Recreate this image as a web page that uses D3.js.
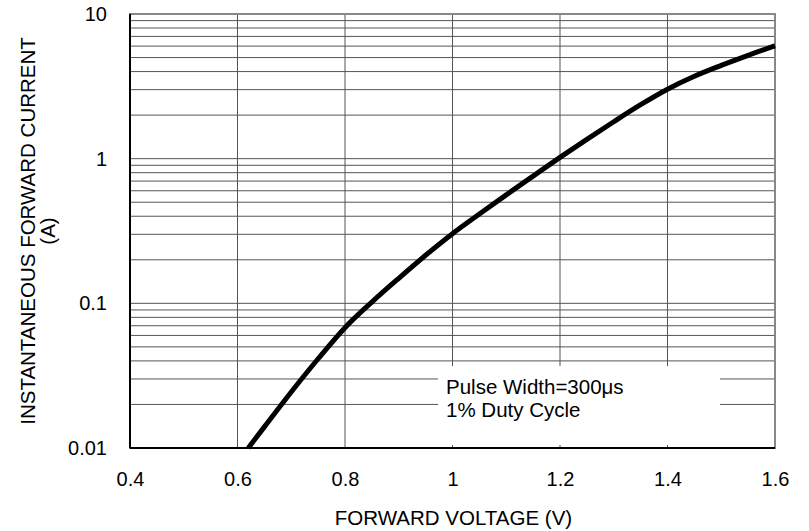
<!DOCTYPE html>
<html>
<head>
<meta charset="utf-8">
<script src="https://cdn.jsdelivr.net/npm/d3@7"></script>
<style>
  html, body { margin: 0; padding: 0; background: #fff; }
  svg { display: block; }
  text { font-family: "Liberation Sans", Arial, sans-serif; fill: #000; }
</style>
</head>
<body>
<svg id="chart" width="809" height="531"></svg>
<script>
// ---- data ----
const voltage = [0.62, 0.65, 0.70, 0.75, 0.80, 0.85, 0.90, 0.95, 1.00, 1.05, 1.10, 1.15, 1.20, 1.25, 1.30, 1.35, 1.40, 1.45, 1.50, 1.55, 1.60];
const current = [0.0100, 0.0140, 0.0244, 0.0414, 0.0679, 0.102, 0.149, 0.215, 0.303, 0.414, 0.562, 0.758, 1.02, 1.36, 1.80, 2.36, 3.02, 3.71, 4.41, 5.18, 6.02];
const xTicks = [0.4, 0.6, 0.8, 1.0, 1.2, 1.4, 1.6];
const xTickLabels = ["0.4", "0.6", "0.8", "1", "1.2", "1.4", "1.6"];
const yTicks = [0.01, 0.1, 1, 10];
const yTickLabels = ["0.01", "0.1", "1", "10"];
const xTitle = "FORWARD VOLTAGE (V)";
const yTitleLines = ["INSTANTANEOUS FORWARD CURRENT", "(A)"];
const noteLines = ["Pulse Width=300\u03bcs", "1% Duty Cycle"];

const svg = d3.select("#chart");
const m = { left: 130, right: 775, top: 14, bottom: 448 };

const x = d3.scaleLinear().domain([0.4, 1.6]).range([m.left, m.right]);
const y = d3.scaleLog().domain([0.01, 10]).range([m.bottom, m.top]);

// grid: minor horizontal lines (log)
const minor = [];
for (let d = 0.01; d < 10; d *= 10) {
  for (let k = 1; k <= 9; k++) minor.push(+(d * k).toPrecision(3));
}
const g = svg.append("g");
g.selectAll("line.h").data(minor.filter(v => v > 0.01 && v < 10)).enter()
  .append("line")
  .attr("x1", m.left).attr("x2", m.right)
  .attr("y1", d => y(d)).attr("y2", d => y(d))
  .attr("stroke", "#555").attr("stroke-width", 1);
g.selectAll("line.v").data(xTicks.slice(1, -1)).enter()
  .append("line")
  .attr("x1", d => x(d)).attr("x2", d => x(d))
  .attr("y1", m.top).attr("y2", m.bottom)
  .attr("stroke", "#555").attr("stroke-width", 1);

// note box (white, covering grid)
svg.append("rect").attr("x", 438).attr("y", 366).attr("width", 282).attr("height", 79).attr("fill", "#fff");
svg.append("g").selectAll("text").data(noteLines).enter().append("text")
  .attr("x", 446).attr("y", (d, i) => 394 + i * 23)
  .attr("font-size", 20.5).text(d => d);

// frame
svg.append("rect").attr("x", m.left).attr("y", m.top)
  .attr("width", m.right - m.left).attr("height", m.bottom - m.top)
  .attr("fill", "none").attr("stroke", "#888").attr("stroke-width", 2);
svg.append("line").attr("x1", m.left).attr("x2", m.left).attr("y1", m.top).attr("y2", m.bottom)
  .attr("stroke", "#000").attr("stroke-width", 2);
svg.append("line").attr("x1", m.left).attr("x2", m.right).attr("y1", m.bottom).attr("y2", m.bottom)
  .attr("stroke", "#000").attr("stroke-width", 2);

// curve
const pts = voltage.map((v, i) => [v, current[i]]);
const line = d3.line().x(d => x(d[0])).y(d => y(d[1])).curve(d3.curveMonotoneX);
svg.append("path").datum(pts).attr("d", line)
  .attr("fill", "none").attr("stroke", "#000").attr("stroke-width", 5)
  .attr("stroke-linecap", "butt");

// axes labels via d3 axes
const xAxis = d3.axisBottom(x).tickValues(xTicks).tickFormat((d, i) => xTickLabels[i]).tickSize(0).tickPadding(24);
const xa = svg.append("g").attr("transform", `translate(0,${m.bottom})`).call(xAxis);
xa.select(".domain").remove();
xa.selectAll("text").attr("font-size", 20).attr("font-family", "Liberation Sans, Arial, sans-serif").attr("fill", "#000");

const yAxis = d3.axisLeft(y).tickValues(yTicks).tickFormat((d, i) => yTickLabels[i]).tickSize(0).tickPadding(23);
const ya = svg.append("g").attr("transform", `translate(${m.left},0)`).call(yAxis);
ya.select(".domain").remove();
ya.selectAll("text").attr("font-size", 20).attr("font-family", "Liberation Sans, Arial, sans-serif").attr("fill", "#000");

// titles
svg.append("text").attr("x", (m.left + m.right) / 2 + 1).attr("y", 525)
  .attr("text-anchor", "middle").attr("font-size", 20.5).text(xTitle);
const yt = svg.append("text").attr("transform", `translate(35,${(m.top + m.bottom) / 2}) rotate(-90)`)
  .attr("text-anchor", "middle").attr("font-size", 20.5);
yTitleLines.forEach((t, i) => {
  yt.append("tspan").attr("x", 0).attr("dy", i === 0 ? 0 : 20).text(t);
});
</script>
</body>
</html>
